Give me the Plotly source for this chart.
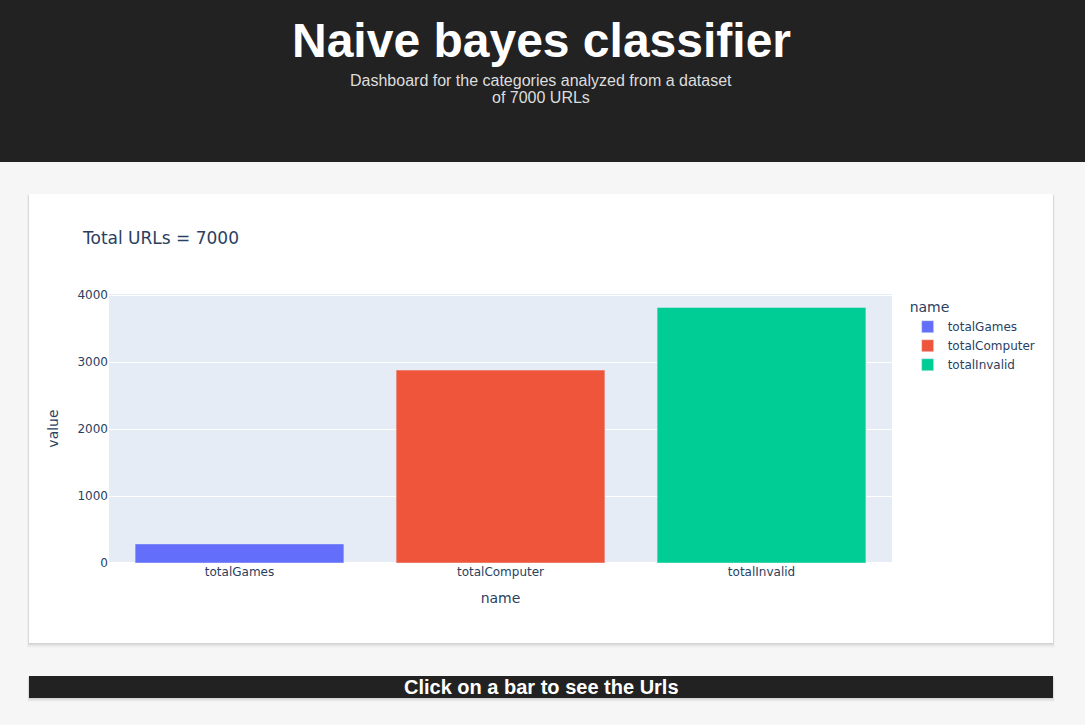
import plotly.graph_objects as go

# Data
categories = ["totalGames", "totalComputer", "totalInvalid"]
values = [285, 2880, 3815]
colors = ["#636efa", "#EF553B", "#00cc96"]
total_urls = 7000

W, H = 1085, 725
L, R, T, B = 109, 193, 294, 162
PW = W - L - R
PH = H - T - B

PLOT_FONT = "Verdana, DejaVu Sans, sans-serif"


def px_x(x):
    return (x - L) / PW


def px_y(y):
    return (H - B - y) / PH


fig = go.Figure()
for cat, val, col in zip(categories, values, colors):
    fig.add_trace(go.Bar(
        x=[cat], y=[val], name=cat, marker_color=col,
        legendgroup=cat, showlegend=True,
    ))

shapes = []


def rect(x0, y0, x1, y1, color, opacity=1.0):
    shapes.append(dict(
        type="rect", xref="paper", yref="paper", layer="below",
        x0=px_x(x0), x1=px_x(x1), y0=px_y(y1), y1=px_y(y0),
        fillcolor=color, opacity=opacity, line=dict(width=0),
    ))


# header
rect(0, 0, W, 162, "#222222")
# card shadow
for d, op in [(1, 0.04), (2, 0.035), (3, 0.03), (4, 0.02), (5, 0.015)]:
    rect(29 - d * 0.4, 194 + d * 0.3, 1053 + d * 0.4, 643 + d, "#000000", op)
rect(29, 194, 1053, 643, "#ffffff")
# plot area background (drawn above the card, below grid lines)
rect(L, T, W - R, H - B, "#E5ECF6")
# bottom bar shadow + bar
for d, op in [(1, 0.04), (2, 0.035), (3, 0.03), (4, 0.02)]:
    rect(29 - d * 0.4, 676 + d * 0.3, 1053 + d * 0.4, 698 + d, "#000000", op)
rect(29, 676, 1053, 698, "#222222")

annotations = [
    dict(text="<b>Naive bayes classifier</b>", xref="paper", yref="paper",
         x=px_x(541), y=px_y(40), xanchor="center", yanchor="middle",
         showarrow=False, font=dict(family="Arial, Liberation Sans", size=48, color="#ffffff")),
    dict(text="Dashboard for the categories analyzed from a dataset",
         xref="paper", yref="paper", x=px_x(541), y=px_y(80), xanchor="center", yanchor="middle",
         showarrow=False, font=dict(family="Arial, Liberation Sans", size=16, color="#dddddd")),
    dict(text="of 7000 URLs",
         xref="paper", yref="paper", x=px_x(541), y=px_y(97), xanchor="center", yanchor="middle",
         showarrow=False, font=dict(family="Arial, Liberation Sans", size=16, color="#dddddd")),
    dict(text=f"Total URLs = {total_urls}", xref="paper", yref="paper",
         x=px_x(80), y=px_y(238), xanchor="left", yanchor="middle", showarrow=False,
         font=dict(family=PLOT_FONT, size=17, color="#2a3f5f")),
    dict(text="<b>Click on a bar to see the Urls</b>", xref="paper", yref="paper",
         x=px_x(541), y=px_y(687), xanchor="center", yanchor="middle", showarrow=False,
         font=dict(family="Arial, Liberation Sans", size=20, color="#ffffff")),
]

fig.update_layout(
    template="plotly",
    width=W, height=H,
    margin=dict(l=L, r=R, t=T, b=B, autoexpand=False),
    font=dict(family=PLOT_FONT, color="#2a3f5f"),
    paper_bgcolor="#f6f6f6",
    plot_bgcolor="#E5ECF6",
    shapes=shapes,
    annotations=annotations,
    barmode="relative",
    legend=dict(title=dict(text="name"), tracegroupgap=0, bgcolor="rgba(0,0,0,0)"),
    xaxis=dict(title=dict(text="name"), categoryorder="array", categoryarray=categories),
    yaxis=dict(title=dict(text="value")),
)

fig.write_html(
    "out.html",
    config={"displayModeBar": False},
    post_script="document.body.style.margin='0';document.body.style.overflow='hidden';",
)
